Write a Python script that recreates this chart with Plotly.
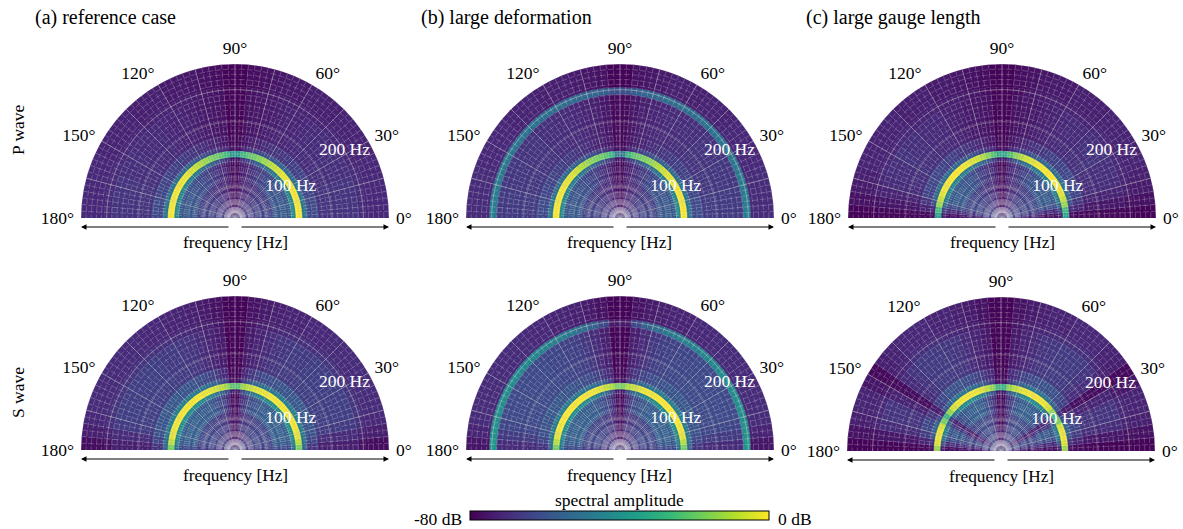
import numpy as np
import plotly.graph_objects as go

FONT = "Liberation Serif"
freq_edges = [0, 30, 60, 88, 95, 105, 112, 130, 193, 204, 240]
angle_edges = [0, 5, 10, 15, 20, 25, 30, 35, 40, 45, 50, 55, 60, 65, 70, 75, 80, 85, 90]
angle_ticks = [0, 30, 60, 90, 120, 150, 180]
angle_labels = ["0°", "30°", "60°", "90°", "120°", "150°", "180°"]
freq_ticks = [100, 200]
freq_tick_angles = [29.5, 31.5]
freq_labels = ["100 Hz", "200 Hz"]
major_angles = [15, 30, 45, 60, 75, 90, 105, 120, 135, 150, 165]
major_freqs = [50, 100, 150, 200, 240]

# dB per frequency band (rows, inner to outer) and angle bin from 0 to 90 degrees
p_reference = [
 [-66,-66,-66,-67,-67,-67,-68,-68,-68,-69,-69,-70,-70,-71,-72,-73,-75,-78],
 [-64,-64,-64,-65,-65,-66,-66,-66,-67,-67,-68,-69,-70,-71,-72,-73,-75,-78],
 [-58,-58,-58,-58,-59,-59,-60,-60,-61,-62,-63,-65,-66,-68,-70,-72,-74,-78],
 [-42,-42,-43,-43,-44,-44,-45,-46,-47,-48,-50,-52,-54,-57,-60,-64,-68,-76],
 [0,0,-1,-1,-1,-1,-2,-2,-3,-5,-7,-10,-13,-16,-19,-22,-26,-38],
 [-48,-48,-49,-49,-50,-50,-51,-52,-53,-54,-56,-58,-60,-62,-65,-68,-71,-77],
 [-62,-62,-62,-63,-63,-64,-64,-65,-65,-66,-67,-68,-69,-70,-72,-73,-75,-78],
 [-68,-68,-68,-68,-69,-69,-69,-70,-70,-70,-71,-72,-72,-73,-74,-75,-76,-79],
 [-70,-70,-70,-70,-70,-71,-71,-71,-71,-72,-72,-72,-73,-73,-74,-75,-76,-79],
 [-71,-71,-71,-71,-71,-72,-72,-72,-72,-73,-73,-73,-74,-74,-75,-76,-77,-79],
]
p_deformation = [
 [-66,-66,-66,-67,-67,-67,-68,-68,-68,-69,-69,-70,-70,-71,-72,-73,-75,-78],
 [-64,-64,-64,-65,-65,-66,-66,-66,-67,-67,-68,-69,-70,-71,-72,-73,-75,-78],
 [-58,-58,-58,-58,-59,-59,-60,-60,-61,-62,-63,-65,-66,-68,-70,-72,-74,-78],
 [-42,-42,-43,-43,-44,-44,-45,-46,-47,-48,-50,-52,-54,-57,-60,-64,-68,-76],
 [0,0,-1,-1,-1,-1,-2,-3,-4,-6,-9,-12,-15,-17,-19,-22,-27,-48],
 [-48,-48,-49,-49,-50,-50,-51,-52,-53,-54,-56,-58,-60,-62,-65,-68,-71,-77],
 [-62,-62,-62,-63,-63,-64,-64,-65,-65,-66,-67,-68,-69,-70,-72,-73,-75,-78],
 [-66,-66,-66,-67,-67,-67,-68,-68,-68,-69,-69,-70,-70,-71,-72,-73,-75,-78],
 [-46,-46,-47,-47,-48,-48,-49,-49,-50,-50,-51,-51,-52,-52,-53,-54,-56,-60],
 [-70,-70,-70,-70,-71,-71,-71,-71,-72,-72,-72,-73,-73,-73,-74,-75,-76,-79],
]
p_gauge = [
 [-68,-66,-64,-64,-65,-65,-66,-66,-67,-67,-68,-69,-70,-71,-72,-73,-75,-78],
 [-72,-68,-64,-63,-63,-63,-64,-64,-65,-65,-66,-67,-68,-69,-70,-72,-74,-78],
 [-76,-70,-62,-58,-57,-57,-58,-58,-59,-59,-60,-62,-64,-66,-68,-70,-73,-78],
 [-72,-64,-54,-48,-45,-44,-44,-45,-45,-46,-47,-48,-50,-52,-56,-60,-66,-74],
 [-35,-26,-13,-7,-3,-1,-1,0,0,0,-1,-2,-4,-6,-10,-15,-23,-32],
 [-76,-70,-60,-54,-52,-51,-51,-51,-52,-53,-54,-56,-58,-61,-64,-67,-71,-77],
 [-78,-72,-68,-64,-63,-63,-63,-63,-64,-64,-65,-67,-68,-69,-71,-73,-75,-78],
 [-78,-75,-72,-70,-69,-69,-68,-69,-69,-70,-70,-71,-72,-73,-74,-75,-76,-79],
 [-79,-76,-73,-72,-71,-71,-71,-71,-71,-72,-72,-72,-73,-73,-74,-75,-77,-79],
 [-79,-76,-74,-73,-72,-72,-72,-72,-72,-73,-73,-73,-74,-74,-75,-76,-77,-79],
]
s_reference = [
 [-70,-68,-67,-66,-66,-66,-66,-67,-67,-68,-68,-69,-70,-71,-72,-73,-75,-78],
 [-66,-64,-63,-63,-63,-63,-63,-64,-64,-64,-65,-65,-66,-67,-68,-70,-73,-78],
 [-62,-58,-56,-56,-56,-56,-56,-56,-56,-56,-57,-57,-58,-60,-62,-65,-70,-78],
 [-50,-46,-43,-42,-41,-41,-41,-41,-41,-41,-42,-43,-44,-46,-50,-55,-62,-74],
 [-17,-8,-3,-2,-1,-1,-1,-1,-1,-1,-1,-1,-2,-3,-5,-8,-12,-22],
 [-54,-50,-48,-47,-46,-46,-46,-46,-46,-47,-47,-48,-49,-51,-54,-58,-65,-76],
 [-68,-63,-60,-59,-59,-58,-58,-58,-58,-59,-59,-60,-61,-62,-64,-67,-71,-78],
 [-73,-70,-66,-65,-65,-65,-65,-65,-65,-65,-66,-66,-67,-68,-70,-72,-74,-79],
 [-76,-72,-69,-68,-68,-68,-68,-68,-68,-68,-69,-69,-70,-71,-72,-73,-75,-79],
 [-77,-73,-71,-70,-70,-70,-70,-70,-70,-70,-71,-71,-72,-72,-73,-74,-76,-79],
]
s_deformation = [
 [-70,-68,-67,-66,-66,-66,-66,-67,-67,-68,-68,-69,-70,-71,-72,-73,-75,-78],
 [-66,-64,-63,-63,-63,-63,-63,-64,-64,-64,-65,-65,-66,-67,-68,-70,-73,-78],
 [-62,-58,-56,-56,-56,-56,-56,-56,-56,-56,-57,-57,-58,-60,-62,-65,-70,-78],
 [-50,-46,-43,-42,-41,-41,-41,-41,-41,-41,-42,-43,-44,-46,-50,-55,-62,-74],
 [-18,-9,-3,-1,-1,0,0,0,0,0,0,-1,-1,-2,-4,-7,-10,-17],
 [-54,-50,-48,-47,-46,-46,-46,-46,-46,-47,-47,-48,-49,-51,-54,-58,-65,-76],
 [-68,-63,-60,-59,-59,-58,-58,-58,-58,-59,-59,-60,-61,-62,-64,-67,-71,-78],
 [-70,-66,-63,-62,-62,-62,-62,-62,-62,-62,-63,-63,-64,-65,-67,-70,-73,-79],
 [-38,-39,-40,-40,-41,-41,-42,-42,-43,-43,-44,-45,-46,-48,-51,-55,-62,-74],
 [-75,-72,-70,-70,-70,-70,-70,-70,-70,-70,-71,-71,-72,-72,-73,-74,-76,-79],
]
s_gauge = [
 [-72,-68,-64,-62,-63,-70,-75,-66,-65,-64,-64,-65,-65,-66,-68,-70,-73,-77],
 [-76,-70,-65,-62,-63,-71,-75,-65,-64,-62,-62,-62,-62,-63,-65,-68,-72,-78],
 [-77,-70,-62,-58,-58,-66,-73,-62,-59,-57,-56,-56,-56,-57,-60,-64,-69,-78],
 [-72,-60,-50,-46,-46,-56,-66,-52,-47,-43,-42,-42,-42,-44,-47,-53,-60,-74],
 [-13,-4,-2,-2,-5,-18,-27,-14,-5,-2,-1,-1,-1,-2,-4,-8,-14,-28],
 [-76,-68,-58,-54,-54,-62,-70,-58,-54,-50,-49,-49,-50,-52,-55,-60,-66,-76],
 [-78,-72,-66,-63,-63,-68,-74,-65,-62,-60,-60,-60,-61,-62,-64,-67,-71,-78],
 [-79,-75,-70,-68,-68,-72,-77,-70,-68,-66,-66,-66,-67,-68,-70,-72,-74,-79],
 [-79,-76,-72,-71,-71,-74,-78,-72,-71,-69,-69,-69,-70,-71,-72,-73,-75,-79],
 [-79,-76,-73,-72,-72,-75,-78,-73,-72,-71,-71,-71,-72,-72,-73,-74,-76,-79],
]
# translucent lift around the origin: band edges in Hz and white opacity
glow_edges = [0, 12, 30]
glow_alpha = [0.2, 0.07]

W, H = 1183, 529
panels = [
    (p_reference, 81, 389, 218, 64),
    (p_deformation, 466, 774, 218, 64),
    (p_gauge, 848, 1156, 218, 64),
    (s_reference, 81, 389, 450, 296),
    (s_deformation, 466, 774, 450, 296),
    (s_gauge, 847, 1155, 451, 297),
]
R_MAX = 240

def fine_mesh():
    th, r = [], []
    arc = np.arange(0, 181, 2.0)
    for f in np.arange(32, R_MAX, 8.0):
        th += list(arc) + [None]
        r += [f] * len(arc) + [None]
    for a in np.arange(2.5, 180, 2.5):
        th += [a, a, None]
        r += [8, R_MAX, None]
    return th, r

def major_mesh():
    th, r = [], []
    arc = np.arange(0, 181, 2.0)
    for f in major_freqs:
        th += list(arc) + [None]
        r += [f] * len(arc) + [None]
    for a in major_angles:
        th += [a, a, None]
        r += [0, R_MAX, None]
    return th, r

fig = go.Figure()
ann = []
fth, fr = fine_mesh()
mth, mr = major_mesh()
layout = {}
for i, (table, x0, x1, yb, yt) in enumerate(panels):
    pid = "polar" if i == 0 else f"polar{i+1}"
    thetas, widths, rs, bases, vals = [], [], [], [], []
    for j, row in enumerate(table):
        for k, v in enumerate(row):
            a0, a1 = angle_edges[k], angle_edges[k + 1]
            for c in ((a0 + a1) / 2, 180 - (a0 + a1) / 2):
                thetas.append(c); widths.append(a1 - a0)
                bases.append(freq_edges[j]); rs.append(freq_edges[j + 1] - freq_edges[j])
                vals.append(v)
    fig.add_trace(go.Barpolar(theta=thetas, r=rs, base=bases, width=widths, subplot=pid,
                              marker=dict(color=vals, coloraxis="coloraxis",
                                          line=dict(width=0.5, color=vals, coloraxis="coloraxis")),
                              hoverinfo="skip", showlegend=False))
    fig.add_trace(go.Barpolar(theta=[90, 90], width=[180, 180], base=glow_edges[:-1],
                              r=[glow_edges[1] - glow_edges[0], glow_edges[2] - glow_edges[1]], subplot=pid,
                              marker=dict(color=[f"rgba(255,255,255,{a})" for a in glow_alpha], line=dict(width=0)),
                              hoverinfo="skip", showlegend=False))
    fig.add_trace(go.Scatterpolar(theta=fth, r=fr, mode="lines", subplot=pid, hoverinfo="skip",
                                  line=dict(color="rgba(255,255,255,0.27)", width=0.8, dash="6px,2px"),
                                  showlegend=False))
    fig.add_trace(go.Scatterpolar(theta=mth, r=mr, mode="lines", subplot=pid, hoverinfo="skip",
                                  line=dict(color="rgba(190,190,190,0.42)", width=0.9),
                                  showlegend=False))
    fig.add_trace(go.Scatterpolar(theta=freq_tick_angles, r=freq_ticks, text=freq_labels, mode="text",
                                  subplot=pid, hoverinfo="skip", textposition="middle center",
                                  textfont=dict(family=FONT, size=17.5, color="white"), showlegend=False))
    layout[pid] = dict(
        domain=dict(x=[x0 / W, x1 / W], y=[1 - yb / H, 1 - yt / H]),
        sector=[0, 180], bgcolor="rgba(0,0,0,0)", barmode="overlay",
        angularaxis=dict(tickvals=angle_ticks, ticktext=angle_labels, showgrid=False, showline=False,
                         ticks="outside", ticklen=3, tickcolor="rgba(0,0,0,0)",
                         tickfont=dict(family=FONT, size=17.5, color="black")),
        radialaxis=dict(range=[0, R_MAX], angle=30, tickvals=freq_ticks, showticklabels=False,
                        showgrid=False, showline=False, ticks=""),
    )
    xc = (x0 + x1) / 2
    for head, tail in ((x0, xc - 5), (x1, xc + 5)):
        ann.append(dict(x=head / W, y=1 - (yb + 9) / H, xref="paper", yref="paper", text="", showarrow=True,
                        ax=tail - head, ay=0, axref="pixel", ayref="pixel", arrowhead=2, arrowsize=1.1,
                        arrowwidth=1, arrowcolor="black"))
    ann.append(dict(x=xc / W, y=1 - (yb + 25) / H, xref="paper", yref="paper", text="frequency [Hz]",
                    showarrow=False, xanchor="center", yanchor="middle",
                    font=dict(family=FONT, size=17.3, color="black")))

def label(text, x, y, size, anchor="left", angle=0):
    ann.append(dict(x=x / W, y=1 - y / H, xref="paper", yref="paper", text=text, showarrow=False,
                    xanchor=anchor, yanchor="middle", textangle=angle,
                    font=dict(family=FONT, size=size, color="black")))

label("(a) reference case", 33, 18, 20)
label("(b) large deformation", 419, 18, 20)
label("(c) large gauge length", 804, 18, 20)
label("P wave", 18, 130, 17.5, "center", -90)
label("S wave", 18, 393, 17.5, "center", -90)
label("-80 dB", 412, 519, 17.5)
label("0 dB", 776, 519, 17.5)
label("spectral amplitude", 620, 500, 17.5, "center")

fig.update_layout(
    width=W, height=H, autosize=False, margin=dict(l=0, r=0, t=0, b=0),
    paper_bgcolor="white", annotations=ann, font=dict(family=FONT),
    coloraxis=dict(cmin=-80, cmax=0, colorscale="Viridis",
                   colorbar=dict(orientation="h", x=619.5 / W, xanchor="center", y=1 - 521 / H, yanchor="bottom",
                                 len=299, lenmode="pixels", thickness=9, thicknessmode="pixels",
                                 outlinecolor="black", outlinewidth=1, ticks="", showticklabels=False,
                                 xpad=0, ypad=0)),
    **layout,
)
fig.write_html("out.html", post_script="document.body.style.margin='0';",
               config={"displayModeBar": False})
